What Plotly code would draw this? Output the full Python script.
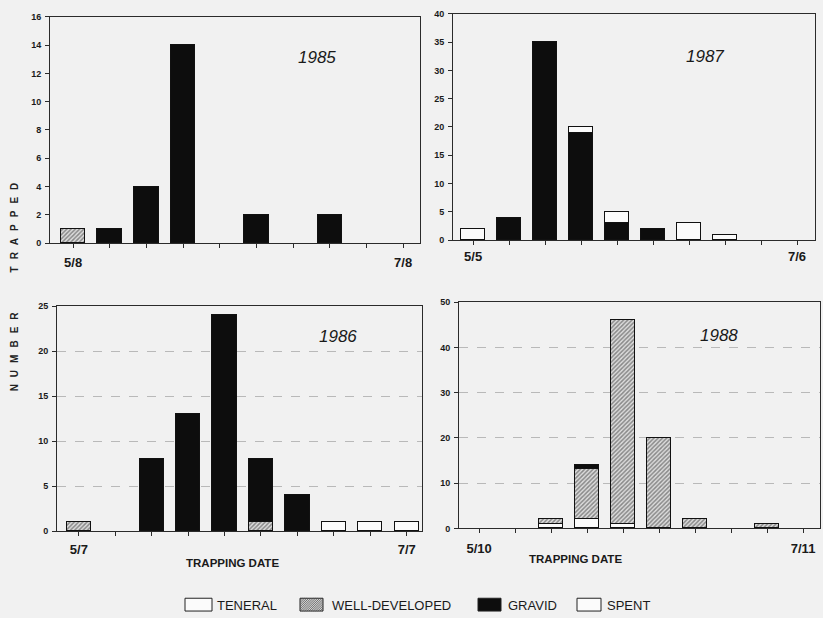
import plotly.graph_objects as go

W, H = 823, 618
BG = "#f1f1f1"
INK = "#2b2b2b"

# trapping-date slots along each season's x axis
slots = [0, 1, 2, 3, 4, 5, 6, 7, 8, 9]

# 1985 catches by reproductive state
teneral_1985 = [0, 0, 0, 0, 0, 0, 0, 0, 0, 0]
welldev_1985 = [1, 0, 0, 0, 0, 0, 0, 0, 0, 0]
gravid_1985 = [0, 1, 4, 14, 0, 2, 0, 2, 0, 0]
spent_1985 = [0, 0, 0, 0, 0, 0, 0, 0, 0, 0]
dates_1985 = ["5/8", "", "", "", "", "", "", "", "", "7/8"]

# 1987 catches
teneral_1987 = [2, 0, 0, 0, 0, 0, 0, 0, 0, 0]
welldev_1987 = [0, 0, 0, 0, 0, 0, 0, 0, 0, 0]
gravid_1987 = [0, 4, 35, 19, 3, 2, 0, 0, 0, 0]
spent_1987 = [0, 0, 0, 1, 2, 0, 3, 1, 0, 0]
dates_1987 = ["5/5", "", "", "", "", "", "", "", "", "7/6"]

# 1986 catches
teneral_1986 = [0, 0, 0, 0, 0, 0, 0, 0, 0, 0]
welldev_1986 = [1, 0, 0, 0, 0, 1, 0, 0, 0, 0]
gravid_1986 = [0, 0, 8, 13, 24, 7, 4, 0, 0, 0]
spent_1986 = [0, 0, 0, 0, 0, 0, 0, 1, 1, 1]
dates_1986 = ["5/7", "", "", "", "", "", "", "", "", "7/7"]

# 1988 catches
teneral_1988 = [0, 0, 1, 2, 1, 0, 0, 0, 0, 0]
welldev_1988 = [0, 0, 1, 11, 45, 20, 2, 0, 1, 0]
gravid_1988 = [0, 0, 0, 1, 0, 0, 0, 0, 0, 0]
spent_1988 = [0, 0, 0, 0, 0, 0, 0, 0, 0, 0]
dates_1988 = ["5/10", "", "", "", "", "", "", "", "", "7/11"]

states = ["TENERAL", "WELL-DEVELOPED", "GRAVID", "SPENT"]


def px(x):
    return x / W


def py(y):
    return 1 - y / H


# panel placement in pixels: left, right, top (y max), bottom (y = 0)
panels = [
    dict(year="1985", ax="", data=[teneral_1985, welldev_1985, gravid_1985, spent_1985],
         dates=dates_1985, box=(50, 420, 12, 242), ymax=16, dtick=2,
         xr=[-0.63, 9.46], grid=False, stand=3, label=(317, 53)),
    dict(year="1987", ax="2", data=[teneral_1987, welldev_1987, gravid_1987, spent_1987],
         dates=dates_1987, box=(453, 815, 9, 239), ymax=40, dtick=5,
         xr=[-0.56, 9.5], grid=False, stand=0, label=(705, 52)),
    dict(year="1986", ax="3", data=[teneral_1986, welldev_1986, gravid_1986, spent_1986],
         dates=dates_1986, box=(57, 422, 306, 535), ymax=25, dtick=5,
         xr=[-0.6, 9.42], grid=True, stand=2, label=(338, 337)),
    dict(year="1988", ax="4", data=[teneral_1988, welldev_1988, gravid_1988, spent_1988],
         dates=dates_1988, box=(459, 820, 302, 532), ymax=50, dtick=10,
         xr=[-0.56, 9.47], grid=True, stand=4, label=(719, 336)),
]

styles = {
    "TENERAL": dict(color="#fbfbfb", pattern=dict(shape="")),
    "WELL-DEVELOPED": dict(color="#d8d8d8",
                           pattern=dict(shape="/", fgcolor="#333333", bgcolor="#dddddd",
                                        size=3, solidity=0.5)),
    "GRAVID": dict(color="#0d0d0d", pattern=dict(shape="")),
    "SPENT": dict(color="#fbfbfb", pattern=dict(shape="")),
}

fig = go.Figure()
layout = {}
annotations = []

for p in panels:
    xa = "x" + p["ax"]
    ya = "y" + p["ax"]
    for name, vals in zip(states, p["data"]):
        st = styles[name]
        # empty slots are left undrawn rather than shown as flat outlines
        shown = [v if v else None for v in vals]
        fig.add_trace(go.Bar(
            x=slots, y=shown, name=name, xaxis=xa, yaxis=ya,
            width=0.67, showlegend=False,
            marker=dict(color=st["color"], pattern=st["pattern"],
                        line=dict(color="#111111", width=1)),
        ))
    l, r, t, b = p["box"]
    layout["xaxis" + p["ax"]] = dict(
        domain=[px(l), px(r)], range=p["xr"], anchor=ya,
        tickmode="array", tickvals=slots, ticktext=p["dates"],
        ticks="outside", ticklen=4, tickcolor=INK, tickwidth=1,
        showline=True, mirror=True, linecolor=INK, linewidth=1,
        showgrid=False, zeroline=False, ticklabelstandoff=p["stand"],
        tickfont=dict(family="Liberation Sans, Arial", size=13, color="#1a1a1a", weight="bold"),
    )
    layout["yaxis" + p["ax"]] = dict(
        domain=[py(b), py(t)], range=[0, p["ymax"]], anchor=xa,
        tickmode="linear", tick0=0, dtick=p["dtick"],
        ticks="outside", ticklen=4, tickcolor=INK, tickwidth=1,
        showline=True, mirror=True, linecolor=INK, linewidth=1,
        showgrid=p["grid"], gridcolor="#b9b9b9", griddash="dash", gridwidth=1,
        zeroline=False, ticklabelstandoff=2,
        tickfont=dict(family="Liberation Sans, Arial", size=9, color="#1a1a1a", weight="bold"),
    )
    annotations.append(dict(
        x=px(p["label"][0]), y=py(p["label"][1]), xref="paper", yref="paper",
        text=p["year"], showarrow=False, xanchor="center", yanchor="middle",
        font=dict(family="Liberation Sans, Arial", size=17, style="italic", color="#1a1a1a"),
    ))

# axis captions under the lower panels
for cx, cy in [(232, 567), (575, 563)]:
    annotations.append(dict(
        x=px(cx), y=py(cy), xref="paper", yref="paper", text="TRAPPING DATE",
        showarrow=False, xanchor="center", yanchor="middle",
        font=dict(family="Liberation Sans, Arial", size=11.5, color="#1a1a1a", weight="bold"),
    ))

# shared vertical title, letter-spaced
sp = "\u2002\u2009"
ytitle = sp.join("NUMBER") + "\u2003\u2003\u2003\u2003" + sp.join("TRAPPED")
annotations.append(dict(
    x=px(14), y=py(287), xref="paper", yref="paper", text=ytitle, textangle=-90,
    showarrow=False, xanchor="center", yanchor="middle",
    font=dict(family="Liberation Sans, Arial", size=10, color="#222222", weight="bold"),
))

# key for the four reproductive states
shapes = []
key = [("TENERAL", 185, 212, 215), ("WELL-DEVELOPED", 300, 323, 330),
       ("GRAVID", 478, 501, 506), ("SPENT", 577, 601, 605)]
ky0, ky1 = 603, 616
for name, k0, k1, tx in key:
    fill = {"TENERAL": "#fbfbfb", "SPENT": "#fbfbfb", "GRAVID": "#0d0d0d",
            "WELL-DEVELOPED": "#d4d4d4"}[name]
    shapes.append(dict(type="rect", xref="paper", yref="paper",
                       x0=px(k0), x1=px(k1), y0=py(ky1), y1=py(ky0),
                       fillcolor=fill, line=dict(color="#222222", width=1), layer="above"))
    if name == "WELL-DEVELOPED":
        w, h = k1 - k0, ky1 - ky0
        segs = []
        c = -h
        while c < w:
            v0 = max(0, -c)
            v1 = min(h, w - c)
            if v1 > v0:
                segs.append("M{:.5f},{:.5f}L{:.5f},{:.5f}".format(
                    px(k0 + v0 + c), py(ky1 - v0), px(k0 + v1 + c), py(ky1 - v1)))
            c += 2.2
        shapes.append(dict(type="path", xref="paper", yref="paper", path="".join(segs),
                           line=dict(color="#444444", width=0.7), layer="above"))
    annotations.append(dict(
        x=px(tx), y=py(610), xref="paper", yref="paper", text=name,
        showarrow=False, xanchor="left", yanchor="middle",
        font=dict(family="Liberation Sans, Arial", size=13, color="#1a1a1a"),
    ))

fig.update_layout(
    width=W, height=H, margin=dict(l=0, r=0, t=0, b=0),
    paper_bgcolor=BG, plot_bgcolor=BG, barmode="stack", bargap=0,
    showlegend=False, annotations=annotations, shapes=shapes,
    **layout,
)

fig.write_html("out.html")
